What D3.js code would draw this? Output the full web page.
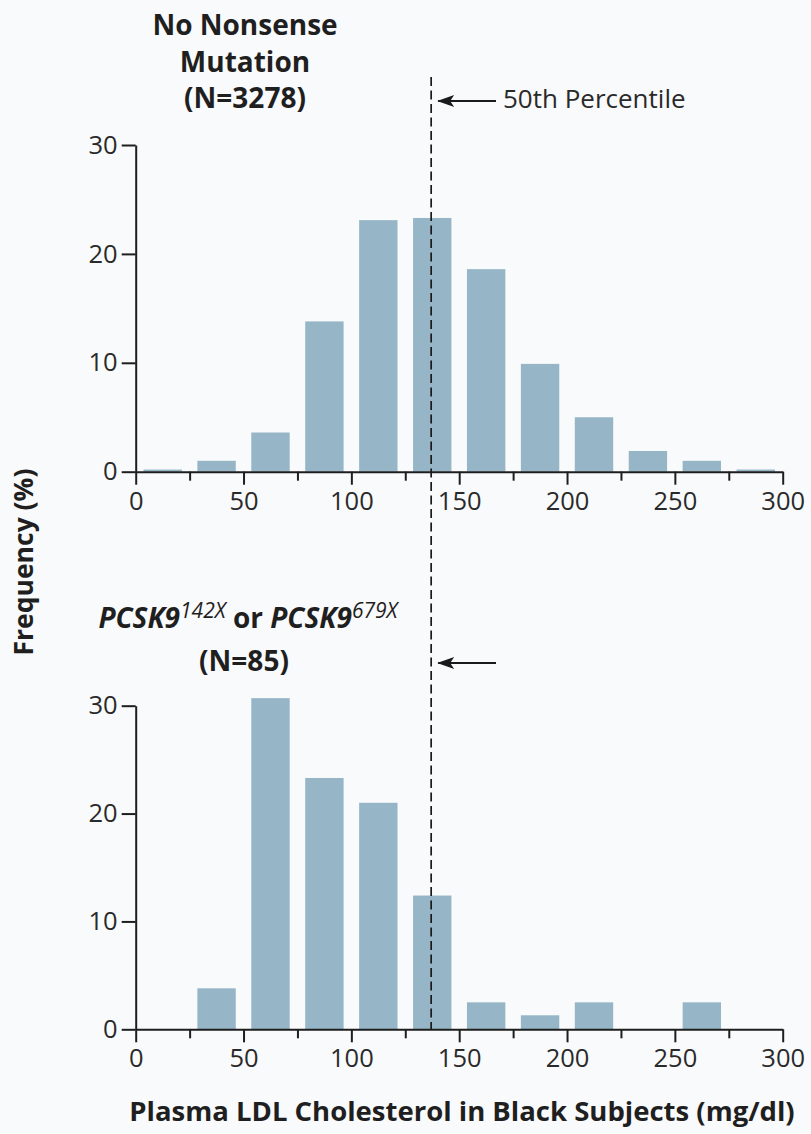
<!DOCTYPE html>
<html>
<head>
<meta charset="utf-8">
<script src="https://cdn.jsdelivr.net/npm/d3@7"></script>
<style>
  html, body { margin: 0; padding: 0; background: #f9fafb; }
  svg { display: block; font-family: 'Open Sans', 'Noto Sans', sans-serif; }
  .axis path, .axis line { stroke: #1e1e1e; stroke-width: 2; }
  .axis text { fill: #2a2a2a; font-size: 25px; font-family: 'Open Sans', sans-serif; }
  .title { fill: #1f1f1f; font-weight: bold; }
</style>
</head>
<body>
<svg id="chart" width="811" height="1134"></svg>
<script>
// bin lower edges (mg/dl), bins are 25 wide
const binStarts = [0, 25, 50, 75, 100, 125, 150, 175, 200, 225, 250, 275]
const binWidth = 25
// frequency (%) per bin
const noMutation = [0.2, 1.0, 3.6, 13.8, 23.1, 23.3, 18.6, 9.9, 5.0, 1.9, 1.0, 0.2]
const pcsk9 = [0, 3.8, 30.7, 23.3, 21.0, 12.4, 2.5, 1.3, 2.5, 0, 2.5, 0]
const median = 137
const xMajorTicks = [0, 50, 100, 150, 200, 250, 300]
const xMinorTicks = [25, 75, 125, 175, 225, 275]
const yTicks = [0, 10, 20, 30]

const svg = d3.select('#chart')
const barColor = '#96b6c7'
const x = d3.scaleLinear().domain([0, 300]).range([135.7, 782.7])
const barPad = 3.6

const panels = [
  { values: noMutation, y: d3.scaleLinear().domain([0, 30]).range([471.7, 145]) },
  { values: pcsk9, y: d3.scaleLinear().domain([0, 30]).range([1029.3, 705.7]) },
]

panels.forEach((p) => {
  const g = svg.append('g')
  const data = binStarts.map((b, i) => ({ lo: b, v: p.values[i] })).filter((d) => d.v > 0)

  g.append('g').selectAll('rect')
    .data(data).enter()
    .append('rect')
    .attr('x', (d) => x(d.lo + barPad))
    .attr('width', (d) => x(d.lo + binWidth - barPad) - x(d.lo + barPad))
    .attr('y', (d) => p.y(d.v))
    .attr('height', (d) => p.y(0) - p.y(d.v))
    .style('fill', barColor)

  const y0 = p.y(0)
  g.append('g').classed('axis', true)
    .attr('transform', `translate(0, ${y0})`)
    .call(d3.axisBottom(x).tickValues(xMajorTicks).tickSize(13).tickSizeOuter(0).tickPadding(7).tickFormat(d3.format('d')))
  g.append('g').classed('axis', true)
    .attr('transform', `translate(0, ${y0})`)
    .call(d3.axisBottom(x).tickValues(xMinorTicks).tickSize(9).tickFormat(''))
    .select('.domain').remove()
  g.append('g').classed('axis', true)
    .attr('transform', `translate(${x(0)}, 0)`)
    .call(d3.axisLeft(p.y).tickValues(yTicks).tickSize(14).tickSizeOuter(0).tickPadding(4))
  g.selectAll('.axis text').style('font-size', '25.5px')
})

// median dashed line
svg.append('line')
  .attr('x1', x(median)).attr('x2', x(median))
  .attr('y1', 77).attr('y2', panels[1].y(0))
  .style('stroke', '#1a1a1a')
  .style('stroke-width', 1.7)
  .style('stroke-dasharray', '9 4.5')

// arrows pointing at the median line
const arrowYs = [101, 663]
arrowYs.forEach((ay) => {
  svg.append('line')
    .attr('x1', x(median) + 7).attr('x2', 496)
    .attr('y1', ay).attr('y2', ay)
    .style('stroke', '#1a1a1a')
    .style('stroke-width', 2)
  svg.append('path')
    .attr('d', `M${x(median) + 6},${ay} l17,-6 l-4,6 l4,6 Z`)
    .style('fill', '#1a1a1a')
})

svg.append('text')
  .attr('x', 503).attr('y', 108)
  .style('font-size', '26px')
  .style('fill', '#2a2a2a')
  .text('50th Percentile')

// titles
const topTitle = ['No Nonsense', 'Mutation', '(N=3278)']
const topBase = [35, 72, 108]
topTitle.forEach((t, i) => {
  svg.append('text').classed('title', true)
    .attr('x', 245).attr('y', topBase[i])
    .attr('text-anchor', 'middle')
    .style('font-size', '28px')
    .text(t)
})

const bt = svg.append('text').classed('title', true)
  .attr('x', 248).attr('y', 628)
  .attr('text-anchor', 'middle')
  .style('font-size', '28px')
bt.append('tspan').style('font-style', 'italic').text('PCSK9')
bt.append('tspan').style('font-style', 'italic').style('font-weight', 'normal')
  .style('font-size', '21px').attr('dy', -10).text('142X')
bt.append('tspan').attr('dy', 10).text(' or ')
bt.append('tspan').style('font-style', 'italic').text('PCSK9')
bt.append('tspan').style('font-style', 'italic').style('font-weight', 'normal')
  .style('font-size', '21px').attr('dy', -10).text('679X')

svg.append('text').classed('title', true)
  .attr('x', 244).attr('y', 671)
  .attr('text-anchor', 'middle')
  .style('font-size', '28px')
  .text('(N=85)')

// axis titles
svg.append('text').classed('title', true)
  .attr('transform', 'translate(33, 562) rotate(-90)')
  .attr('text-anchor', 'middle')
  .style('font-size', '26.5px')
  .text('Frequency (%)')

svg.append('text').classed('title', true)
  .attr('x', 462).attr('y', 1121)
  .attr('text-anchor', 'middle')
  .style('font-size', '27.5px')
  .text('Plasma LDL Cholesterol in Black Subjects (mg/dl)')
</script>
</body>
</html>
